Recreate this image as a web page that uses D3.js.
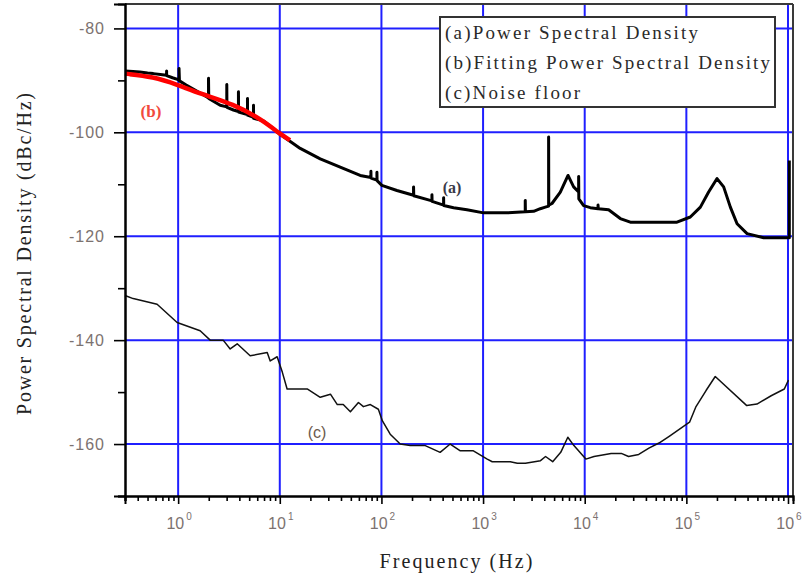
<!DOCTYPE html>
<html><head><meta charset="utf-8">
<script src="https://cdn.jsdelivr.net/npm/d3@7"></script>
<style>body{margin:0;background:#fff}svg{display:block}</style>
</head><body>
<svg id="c" width="803" height="581"></svg>
<script>
// ---- data ----
const psdFreq = [0.30,0.36,0.42,0.50,0.57,0.70,0.77,0.77,0.77,0.88,1.02,1.02,1.03,1.2,1.57,
  1.99,1.99,2.0,2.59,3.01,3.01,3.02,3.5,3.92,3.92,3.93,4.81,4.81,4.82,5.51,5.51,5.52,6.92,8.3,10,10.8,
  15.9,25,39.3,61.8,78.8,78.8,79,90.3,90.3,90.6,101,142,207,207,208,302,314,314,315,409,409,410,513,694,
  1011,1718,2600,2600,2610,3141,3655,4095,4415,4415,4430,4766,5754,6852,7783,8716,8716,8750,9755,11350,
  13520,13520,13600,17190,22390,28100,80900,109400,137400,165600,200400,232800,271000,315500,395600,576600,1.03e6,1.03e6];
const psdDb = [-88.2,-88.3,-88.4,-88.6,-88.7,-88.9,-89.0,-88.2,-89.1,-89.5,-89.9,-87.7,-90.1,-90.9,-92.2,
  -93.4,-89.6,-93.5,-94.8,-95.1,-90.8,-95.2,-95.7,-96.0,-92.2,-96.1,-96.6,-93.5,-96.7,-97.1,-94.8,-97.3,-97.8,-99.0,-100.4,-100.8,
  -103.1,-105.1,-106.7,-108.3,-108.7,-107.5,-108.8,-109.2,-107.7,-109.3,-110.2,-111.2,-112.1,-110.5,-112.2,-113.1,-113.2,-112.0,-113.3,-114.0,-112.6,-114.1,-114.5,-114.9,
  -115.5,-115.5,-115.3,-113.1,-115.3,-115.2,-114.7,-114.4,-114.2,-100.9,-114.0,-113.7,-111.5,-108.3,-110.5,-111.5,-108.5,-112.8,-114.1,-114.5,
  -114.7,-114.0,-114.7,-114.9,-116.6,-117.3,-117.3,-116.3,-114.4,-111.5,-108.9,-110.5,-114.4,-117.6,-119.5,-120.3,-120.3,-105.4];

const fitFreq = [0.30,0.57,0.98,1.65,3.48,6.86,10.0,12.6];
const fitDb   = [-88.7,-89.3,-90.8,-92.6,-94.5,-97.7,-100.3,-101.5];

const floorFreq = [0.30,0.361,0.621,0.977,1.646,2.066,2.773,3.25,3.81,5.11,7.52,8.05,9.42,10.6,11.8,18.6,25.0,31.5,36.8,42.1,49.5,59.4,66.5,77.8,93.3,
  102,122,153,192,270,378,475,597,803,1099,1231,1851,2175,2610,3673,4118,4840,5810,6820,7830,10260,12340,18200,22900,27000,34000,42800,53800,67800,
  107500,123600,156200,192400,393000,495000,683000,920000,1.01e6];
const floorDb = [-131.4,-132,-133.1,-136.6,-138.2,-140,-140,-141.7,-140.7,-143,-142.4,-144,-143.2,-146.2,-149.4,-149.4,-151,-150.4,-152.4,-152.4,-153.8,-152,-152.8,-152.4,-153.3,
  -155.5,-158.1,-160,-160.3,-160.3,-161.6,-160,-161.3,-161.3,-162.9,-163.4,-163.4,-163.7,-163.7,-163.2,-162.4,-163.4,-161.6,-158.7,-160.3,-162.9,-162.4,-161.8,-161.8,-162.4,-162.0,-160.8,-159.8,-158.5,
  -155.8,-152.9,-149.7,-147,-152.6,-152.3,-150.7,-149.4,-147.7];

const xMajor = [1,10,100,1e3,1e4,1e5,1e6];
const xExp = ["0","1","2","3","4","5","6"];
const yMajor = [-80,-100,-120,-140,-160];
const yMinor = [-90,-110,-130,-150,-170];
const legendItems = ["(a)Power Spectral Density","(b)Fitting Power Spectral Density","(c)Noise floor"];
const xTitle = "Frequency (Hz)";
const yTitle = "Power Spectral Density (dBc/Hz)";

// ---- chart ----
const svg = d3.select("#c");
const L = 125, R = 793, T = 4, B = 496;
const x = d3.scaleLog().domain([0.3, 1.12e6]).range([L, R]);
const y = d3.scaleLinear().domain([-170, -75.3]).range([B, T]);

const xMinor = [];
for (let e = -1; e <= 6; e++) for (let k = 2; k <= 9; k++) {
  const v = k * Math.pow(10, e);
  if (v >= 0.3 && v <= 1.12e6) xMinor.push(v);
}
xMinor.push(0.3);

// grid
const grid = svg.append("g").attr("stroke", "#1f1fff").attr("stroke-width", 2);
grid.selectAll(".gx").data(xMajor).join("line").attr("class","gx")
  .attr("x1", d => x(d)).attr("x2", d => x(d)).attr("y1", T).attr("y2", B);
grid.selectAll(".gy").data(yMajor).join("line").attr("class","gy")
  .attr("x1", L).attr("x2", R).attr("y1", d => y(d)).attr("y2", d => y(d));

// curves
const line = d3.line().x(d => x(d[0])).y(d => y(d[1]));
svg.append("path").datum(floorFreq.map((f, i) => [f, floorDb[i]]))
  .attr("d", line).attr("fill", "none").attr("stroke", "#111").attr("stroke-width", 1.5).attr("stroke-linejoin","round");
svg.append("path").datum(psdFreq.map((f, i) => [f, psdDb[i]]))
  .attr("d", line).attr("fill", "none").attr("stroke", "#000").attr("stroke-width", 3).attr("stroke-linejoin","round");
svg.append("path").datum(fitFreq.map((f, i) => [f, fitDb[i]]))
  .attr("d", line.curve(d3.curveBasis)).attr("fill", "none").attr("stroke", "#ff0000").attr("stroke-width", 4.5).attr("stroke-linecap","butt");

// frame top/right
svg.append("line").attr("x1", L).attr("x2", R).attr("y1", T).attr("y2", T).attr("stroke", "#3a3a3a").attr("stroke-width", 2);
svg.append("line").attr("x1", R).attr("x2", R).attr("y1", T).attr("y2", B).attr("stroke", "#3a3a3a").attr("stroke-width", 2);

const tickColor = "#7c7270";
// x axis
const gxMin = svg.append("g").attr("transform", `translate(0,${B})`)
  .call(d3.axisBottom(x).tickValues(xMinor).tickSize(5).tickFormat(""));
const gxMaj = svg.append("g").attr("transform", `translate(0,${B})`)
  .call(d3.axisBottom(x).tickValues(xMajor).tickSize(8).tickFormat(""));
[gxMin, gxMaj].forEach(g => {
  g.select(".domain").attr("stroke", "#000").attr("stroke-width", 2);
  g.selectAll(".tick line").attr("stroke", "#000").attr("stroke-width", 1.6);
});
const xl = svg.append("g").attr("font-family", "Liberation Sans, Arial, sans-serif").attr("fill", tickColor);
xMajor.forEach((v, i) => {
  const t = xl.append("text").attr("x", x(v) + 1).attr("y", 529).attr("text-anchor", "middle").attr("font-size", 16);
  t.append("tspan").text("10");
  t.append("tspan").attr("dy", -9).attr("font-size", 10).attr("dx", 2).text(xExp[i]);
});

// y axis
const gyMin = svg.append("g").attr("transform", `translate(${L},0)`)
  .call(d3.axisLeft(y).tickValues(yMinor).tickSize(7).tickFormat(""));
const gyMaj = svg.append("g").attr("transform", `translate(${L},0)`)
  .call(d3.axisLeft(y).tickValues(yMajor).tickSize(11).tickPadding(9).tickFormat(d => String(d)));
[gyMin, gyMaj].forEach(g => {
  g.select(".domain").attr("stroke", "#000").attr("stroke-width", 2);
  g.selectAll(".tick line").attr("stroke", "#000").attr("stroke-width", 1.6);
});
gyMaj.selectAll(".tick text").attr("font-family", "Liberation Sans, Arial, sans-serif")
  .attr("font-size", 16).attr("fill", tickColor).attr("letter-spacing", 1);

// titles
svg.append("text").attr("x", 456).attr("y", 568).attr("text-anchor", "middle")
  .attr("font-family", "Liberation Serif, Times New Roman, serif").attr("font-size", 20).attr("fill", "#222")
  .attr("textLength", 153).attr("lengthAdjust", "spacing").text(xTitle);
svg.append("text").attr("transform", "translate(31,254) rotate(-90)").attr("text-anchor", "middle")
  .attr("font-family", "Liberation Serif, Times New Roman, serif").attr("font-size", 20).attr("fill", "#222")
  .attr("textLength", 322).attr("lengthAdjust", "spacing").text(yTitle);

// curve labels
svg.append("text").attr("x", 452).attr("y", 193).attr("text-anchor", "middle")
  .attr("font-family", "Liberation Serif, serif").attr("font-weight", "bold").attr("font-size", 16).attr("fill", "#3a3a48").text("(a)");
svg.append("text").attr("x", 151).attr("y", 117).attr("text-anchor", "middle")
  .attr("font-family", "Liberation Serif, serif").attr("font-weight", "bold").attr("font-size", 17).attr("fill", "#f24a3c").text("(b)");
svg.append("text").attr("x", 317).attr("y", 438).attr("text-anchor", "middle")
  .attr("font-family", "Liberation Sans, sans-serif").attr("font-size", 16).attr("fill", "#6b5a4e").text("(c)");

// legend
const lg = svg.append("g");
lg.append("rect").attr("x", 440).attr("y", 17).attr("width", 335).attr("height", 90)
  .attr("fill", "#fff").attr("stroke", "#333").attr("stroke-width", 2);
const lw = [253, 325, 135];
legendItems.forEach((s, i) => {
  lg.append("text").attr("x", 445).attr("y", 39 + 30 * i)
    .attr("font-family", "Liberation Serif, Times New Roman, serif").attr("font-size", 19).attr("fill", "#2a2a2a")
    .attr("textLength", lw[i]).attr("lengthAdjust", "spacing").text(s);
});
</script>
</body></html>
